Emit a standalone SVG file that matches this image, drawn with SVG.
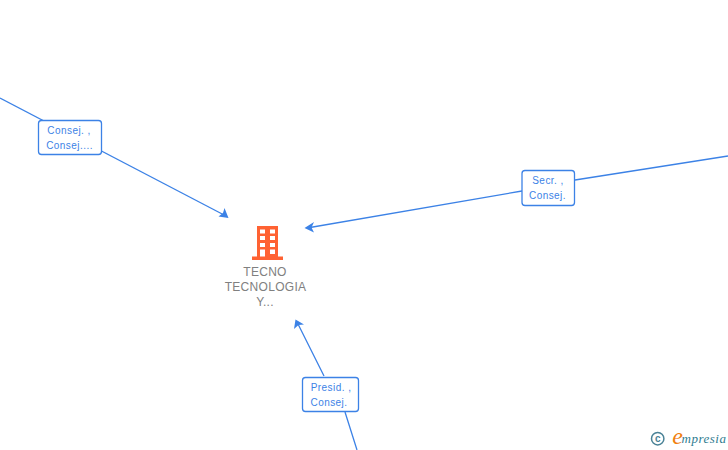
<svg xmlns="http://www.w3.org/2000/svg" width="728" height="450" viewBox="0 0 728 450">
<style>
.e{fill:none;stroke:#3c82e6;stroke-width:1.3}
.h{fill:#3c82e6;stroke:none}
.b{fill:#fff;stroke:#3c82e6;stroke-width:1.3}
.l{font-family:"Liberation Sans",Arial,sans-serif;font-size:10px;fill:#3c82e6;text-anchor:middle;letter-spacing:.45px}
.n{font-family:"Liberation Sans",Arial,sans-serif;font-size:12px;fill:#808080;text-anchor:middle;letter-spacing:.3px}
</style>
<rect width="728" height="450" fill="#fff"/>
<g id="connectors">
<path class="e" d="M0 98L226 216"/>
<path class="h" d="M228.500 218L218.500 216.500L223 213L224.500 208Z"/>
<path class="e" d="M728 156L575 180M522 191L307 228"/>
<path class="h" d="M304.500 228L314 222L311.500 227.500L314 232.500Z"/>
<path class="e" d="M357 450L345 412M324 376L297 322"/>
<path class="h" d="M295.500 319.500L304 324.500L298.500 325L294 329Z"/>
</g>
<g id="edge-label-1"><rect class="b" x="38.500" y="120.500" width="63" height="34" rx="3"/><text class="l" x="69" y="134">Consej. ,</text><text class="l" x="69.500" y="149">Consej....</text></g>
<g id="edge-label-2"><rect class="b" x="522" y="170.500" width="52.500" height="35" rx="3"/><text class="l" x="548" y="184">Secr. ,</text><text class="l" x="547.500" y="199">Consej.</text></g>
<g id="edge-label-3"><rect class="b" x="302.500" y="377.500" width="56" height="34" rx="3"/><text class="l" x="331" y="391">Presid. ,</text><text class="l" x="329" y="406">Consej.</text></g>
<g id="node-tecno">
<path fill="#ff6233" fill-rule="evenodd" d="M257 226H278V256.500H283V260H252V256.500H257ZM260 229.500V233.500H265V229.500ZM270 229.500V233.500H275V229.500ZM260 236V240H265V236ZM270 236V240H275V236ZM260 243V247H265V243ZM270 243V247H275V243ZM260 249.500V256.500H265V249.500ZM270 249.500V254H275V249.500Z"/>
<text class="n" x="265" y="276">TECNO</text>
<text class="n" x="265.500" y="291">TECNOLOGIA</text>
<text class="n" x="265" y="306">Y...</text>
</g>
<g id="copyright">
<circle cx="657.700" cy="438.700" r="6.200" fill="none" stroke="#4a8296" stroke-width="1.500"/>
<text x="657.700" y="442" font-family="Liberation Sans,sans-serif" font-size="10" font-weight="bold" fill="#4a8296" text-anchor="middle">c</text>
<text x="677.500" y="444" font-family="Liberation Serif,serif" font-size="24" font-style="italic" fill="#f08010" text-anchor="middle">e</text>
<text x="704" y="443" font-family="Liberation Serif,serif" font-size="13" font-style="italic" fill="#2f7c90" text-anchor="middle" letter-spacing=".5">mpresia</text>
</g>
</svg>
